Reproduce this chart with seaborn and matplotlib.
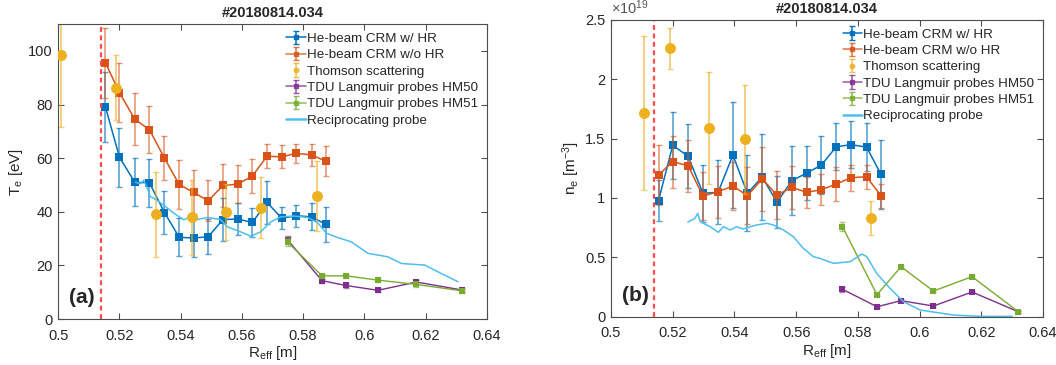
import numpy as np
import matplotlib
matplotlib.use("Agg")
import matplotlib.pyplot as plt
import seaborn as sns

# ---------------- data ----------------
r_crm = [0.5154, 0.5200, 0.5250, 0.5298, 0.5347, 0.5395, 0.5442, 0.5490,
         0.5538, 0.5586, 0.5634, 0.5682, 0.5730, 0.5778, 0.5828, 0.5875]
te_hr = [79.1, 60.3, 51.0, 50.8, 39.7, 30.5, 30.2, 30.7,
         37.1, 37.3, 36.0, 43.5, 37.6, 38.5, 38.1, 35.3]
te_hr_err = [13, 11, 9, 9, 8, 7, 7, 6.5, 8, 6, 5.5, 8, 4, 4, 5, 6.5]
te_nohr = [95.6, 84.4, 74.5, 70.6, 60.0, 50.2, 47.2, 44.1,
           49.8, 50.3, 53.3, 60.7, 60.5, 61.8, 61.2, 58.8]
te_nohr_err = [13, 11, 9.7, 8.7, 8.3, 9, 8.2, 7.6, 8, 7, 6.2, 4.5, 4.3, 3.6, 4.2, 5.6]

r_ts_a = [0.5009, 0.5190, 0.5318, 0.5437, 0.5549, 0.5664, 0.5846]
te_ts = [98.6, 86.3, 39.0, 38.0, 39.9, 41.5, 45.8]
te_ts_err = [27, 12, 16, 14, 10.5, 11.3, 13]

r_tdu = [0.5750, 0.5862, 0.5940, 0.6045, 0.6170, 0.6320]
te_hm50 = [29.4, 14.3, 12.5, 10.7, 13.8, 10.8]
te_hm50_err = [1.5, 0.8, 0.8, 0.8, 0.8, 0.8]
te_hm51 = [28.6, 16.1, 16.1, 14.5, 12.9, 10.5]
te_hm51_err = [1.5, 0.8, 0.8, 0.8, 0.8, 0.8]

r_rp_a = [0.5252, 0.5270, 0.5279, 0.5290, 0.5301, 0.5320, 0.5344, 0.5377,
          0.5410, 0.5420, 0.5432, 0.5454, 0.5487, 0.5530, 0.5552, 0.5596,
          0.5629, 0.5661, 0.5694, 0.5727, 0.5770, 0.5814, 0.5847, 0.5876,
          0.5910, 0.5957, 0.6012, 0.6077, 0.6121, 0.6198, 0.6251, 0.6306]
te_rp = [51.0, 50.5, 51.8, 49.0, 45.6, 44.5, 42.5, 39.5,
         37.0, 37.5, 38.4, 37.1, 37.9, 37.1, 34.4, 32.5,
         30.9, 32.5, 36.2, 38.1, 38.4, 37.9, 36.0, 32.0,
         30.5, 28.8, 24.5, 23.2, 20.7, 20.1, 17.0, 13.9]

# densities in units of 1e19 m^-3
ne_hr = [0.977, 1.443, 1.350, 1.039, 1.047, 1.361, 1.039, 1.176,
         0.963, 1.145, 1.209, 1.277, 1.431, 1.448, 1.428, 1.199]
ne_hr_err = [0.17, 0.28, 0.27, 0.24, 0.27, 0.45, 0.32, 0.36,
             0.22, 0.29, 0.23, 0.24, 0.2, 0.2, 0.2, 0.29]
ne_nohr = [1.193, 1.305, 1.271, 1.016, 1.052, 1.100, 1.019, 1.159,
           1.024, 1.089, 1.047, 1.069, 1.117, 1.170, 1.178, 1.019]
ne_nohr_err = [0.25, 0.22, 0.22, 0.2, 0.22, 0.2, 0.24, 0.27,
               0.2, 0.18, 0.13, 0.13, 0.14, 0.11, 0.1, 0.1]

r_ts_b = [0.5107, 0.5190, 0.5318, 0.5433, 0.5842]
ne_ts = [1.715, 2.259, 1.591, 1.493, 0.831]
ne_ts_err = [0.65, 0.175, 0.47, 0.46, 0.145]

ne_hm50 = [0.231, 0.084, 0.135, 0.090, 0.208, 0.042]
ne_hm50_err = [0.02, 0.01, 0.01, 0.01, 0.01, 0.01]
ne_hm51 = [0.758, 0.185, 0.421, 0.216, 0.337, 0.042]
ne_hm51_err = [0.04, 0.01, 0.01, 0.01, 0.01, 0.01]

r_rp_b = [0.5249, 0.5272, 0.5281, 0.5289, 0.5321, 0.5348, 0.5364, 0.5386,
          0.5407, 0.5429, 0.5451, 0.5472, 0.5505, 0.5526, 0.5559, 0.5591,
          0.5623, 0.5656, 0.5677, 0.5721, 0.5775, 0.5813, 0.5829, 0.5861,
          0.5904, 0.5948, 0.6002, 0.6110, 0.6196, 0.6300]
ne_rp = [0.797, 0.828, 0.870, 0.800, 0.758, 0.710, 0.758, 0.730,
         0.758, 0.738, 0.758, 0.772, 0.786, 0.772, 0.730, 0.673,
         0.576, 0.505, 0.491, 0.449, 0.463, 0.528, 0.505, 0.365,
         0.239, 0.126, 0.056, 0.014, 0.003, 0.003]

r_sep = 0.5138
shot = "#20180814.034"
labels = ["He-beam CRM w/ HR", "He-beam CRM w/o HR", "Thomson scattering",
          "TDU Langmuir probes HM50", "TDU Langmuir probes HM51", "Reciprocating probe"]
x_ticks = [0.5, 0.52, 0.54, 0.56, 0.58, 0.6, 0.62, 0.64]
x_ticklabels = ["0.5", "0.52", "0.54", "0.56", "0.58", "0.6", "0.62", "0.64"]
te_ticks = [0, 20, 40, 60, 80, 100]
ne_ticks = [0, 0.5, 1, 1.5, 2, 2.5]
ne_ticklabels = ["0", "0.5", "1", "1.5", "2", "2.5"]

# ---------------- style ----------------
sns.set_theme(style="ticks")
plt.rcParams["font.family"] = ["Liberation Sans", "DejaVu Sans"]
plt.rcParams["mathtext.fontset"] = "custom"
plt.rcParams["mathtext.rm"] = "Liberation Sans"
plt.rcParams["mathtext.it"] = "Liberation Sans"
plt.rcParams["font.size"] = 10

C_BLUE = "#0072BD"
C_ORANGE = "#D95319"
C_YELLOW = "#EDB120"
C_PURPLE = "#7E2F8E"
C_GREEN = "#77AC30"
C_LBLUE = "#4DBEEE"
C_AX = "#4d4d4d"
C_TXT = "#262626"

fig = plt.figure(figsize=(10.56, 3.65), dpi=100)
axA = fig.add_axes([0.0552, 0.126, 0.4057, 0.808])
axB = fig.add_axes([0.5786, 0.1323, 0.4091, 0.8137])


def draw(ax, y_hr, e_hr, y_nohr, e_nohr, r_ts, y_ts, e_ts,
         y50, e50, y51, e51, r_rp, y_rp):
    ax.errorbar(r_crm, y_hr, yerr=e_hr, fmt="none", ecolor=C_BLUE,
                alpha=0.65, capsize=2.5, elinewidth=1.2)
    sns.lineplot(x=r_crm, y=y_hr, ax=ax, color=C_BLUE, marker="s",
                 markersize=5.5, markeredgewidth=0, linewidth=1.1, sort=False, legend=False)
    ax.errorbar(r_crm, y_nohr, yerr=e_nohr, fmt="none", ecolor=C_ORANGE,
                alpha=0.6, capsize=2.5, elinewidth=1.2)
    sns.lineplot(x=r_crm, y=y_nohr, ax=ax, color=C_ORANGE, marker="s",
                 markersize=5.5, markeredgewidth=0, linewidth=1.1, sort=False, legend=False)
    ax.errorbar(r_ts, y_ts, yerr=e_ts, fmt="none", ecolor=C_YELLOW,
                alpha=0.6, capsize=2.5, elinewidth=1.4)
    sns.scatterplot(x=r_ts, y=y_ts, ax=ax, color=C_YELLOW, marker="o",
                    s=62, linewidth=0, legend=False, zorder=3)
    ax.errorbar(r_tdu, y50, yerr=e50, fmt="none", ecolor=C_PURPLE,
                alpha=0.6, capsize=2, elinewidth=1.0)
    sns.lineplot(x=r_tdu, y=y50, ax=ax, color=C_PURPLE, marker="s",
                 markersize=5, markeredgewidth=0, linewidth=1.0, sort=False, legend=False)
    ax.errorbar(r_tdu, y51, yerr=e51, fmt="none", ecolor=C_GREEN,
                alpha=0.6, capsize=2, elinewidth=1.0)
    sns.lineplot(x=r_tdu, y=y51, ax=ax, color=C_GREEN, marker="s",
                 markersize=5, markeredgewidth=0, linewidth=1.0, sort=False, legend=False)
    sns.lineplot(x=r_rp, y=y_rp, ax=ax, color=C_LBLUE, linewidth=1.1,
                 sort=False, legend=False)
    ax.axvline(r_sep, color="#FF4B4B", linestyle=(0, (2.2, 1.6)), linewidth=1.6)

    # legend proxies
    nan = [np.nan]
    h = []
    h.append(ax.errorbar(nan, nan, yerr=nan, fmt="-s", color=C_BLUE, ms=3.2, capsize=2, lw=1.1))
    h.append(ax.errorbar(nan, nan, yerr=nan, fmt="-s", color=C_ORANGE, ms=3.2, capsize=2, lw=1.1,
                         alpha=0.8))
    h.append(ax.errorbar(nan, nan, yerr=nan, fmt="o", color=C_YELLOW, ms=3.2, capsize=2, lw=1.1,
                         alpha=0.8))
    h.append(ax.errorbar(nan, nan, yerr=nan, fmt="-s", color=C_PURPLE, ms=3.2, capsize=2, lw=1.1,
                         alpha=0.8))
    h.append(ax.errorbar(nan, nan, yerr=nan, fmt="-s", color=C_GREEN, ms=3.2, capsize=2, lw=1.1,
                         alpha=0.8))
    h.append(plt.Line2D([], [], color=C_LBLUE, lw=1.8))
    ax.legend(h, labels, loc="upper right", frameon=False, fontsize=9.6,
              handlelength=1.45, handletextpad=0.1, labelspacing=0.3,
              borderaxespad=0.35, borderpad=0.3)

    ax.set_xlim(0.5, 0.64)
    ax.set_xticks(x_ticks)
    ax.set_xticklabels(x_ticklabels)
    ax.set_xlabel(r"R$_{\mathrm{eff}}$ [m]", fontsize=11, color=C_TXT, labelpad=1)
    ax.set_title(shot, fontsize=10.5, fontweight="bold", pad=5)
    for sp in ax.spines.values():
        sp.set_visible(True)
        sp.set_color(C_AX)
        sp.set_linewidth(0.8)
    ax.tick_params(direction="in", top=True, right=True, length=4, width=0.8,
                   color=C_AX, labelsize=10.5, labelcolor=C_TXT)
    ax.tick_params(axis="x", pad=7)
    ax.tick_params(axis="y", pad=4)
    ax.grid(False)


draw(axA, te_hr, te_hr_err, te_nohr, te_nohr_err, r_ts_a, te_ts, te_ts_err,
     te_hm50, te_hm50_err, te_hm51, te_hm51_err, r_rp_a, te_rp)
axA.set_ylim(0, 110)
axA.set_yticks(te_ticks)
axA.set_yticklabels([str(t) for t in te_ticks])
axA.set_ylabel(r"T$_\mathrm{e}$ [eV]", fontsize=11, color=C_TXT, labelpad=2)
axA.text(0.025, 0.04, "(a)", transform=axA.transAxes, fontsize=15,
         fontweight="bold", ha="left", va="bottom")

draw(axB, ne_hr, ne_hr_err, ne_nohr, ne_nohr_err, r_ts_b, ne_ts, ne_ts_err,
     ne_hm50, ne_hm50_err, ne_hm51, ne_hm51_err, r_rp_b, ne_rp)
axB.set_ylim(0, 2.5)
axB.set_yticks(ne_ticks)
axB.set_yticklabels(ne_ticklabels)
axB.text(0.0, 1.008, r"$\times$10$^{19}$", transform=axB.transAxes, fontsize=10.5,
         color="#555555", ha="left", va="bottom")
axB.set_ylabel(r"n$_\mathrm{e}$ [m$^{-3}$]", fontsize=11, color=C_TXT, labelpad=2)
axB.text(0.025, 0.04, "(b)", transform=axB.transAxes, fontsize=15,
         fontweight="bold", ha="left", va="bottom")

fig.savefig("out.png", dpi=100)
